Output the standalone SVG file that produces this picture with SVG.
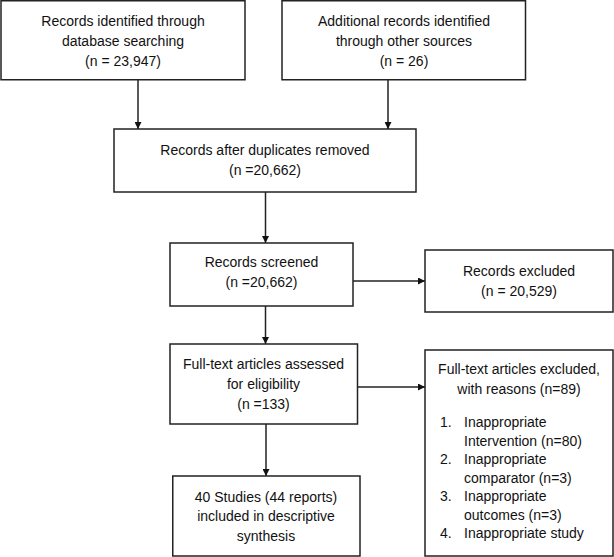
<svg xmlns="http://www.w3.org/2000/svg" width="614" height="557" viewBox="0 0 614 557">
<style>
.box{fill:#fff;stroke:#222;stroke-width:1.5}
.t{font-family:"Liberation Sans",Arial,sans-serif;font-size:14px;fill:#111;text-anchor:middle}
.l{font-family:"Liberation Sans",Arial,sans-serif;font-size:14px;fill:#111}
.c{stroke:#222;stroke-width:1.5;fill:none;marker-end:url(#ah)}
</style>
<defs>
<marker id="ah" viewBox="0 0 10 10" refX="10" refY="5" markerWidth="7" markerHeight="7" markerUnits="userSpaceOnUse" orient="auto">
<path d="M0,0 L10,5 L0,10 z" fill="#111"/>
</marker>
</defs>
<rect width="614" height="557" fill="#fff"/>
<g id="connectors">
<line class="c" x1="138" y1="80" x2="138" y2="129"/>
<line class="c" x1="388" y1="80" x2="388" y2="129"/>
<line class="c" x1="265.5" y1="192" x2="265.5" y2="243"/>
<line class="c" x1="353" y1="281" x2="425" y2="281"/>
<line class="c" x1="265.5" y1="306" x2="265.5" y2="344"/>
<line class="c" x1="357.5" y1="387" x2="425" y2="387"/>
<line class="c" x1="266" y1="424" x2="266" y2="476"/>
</g>
<g id="n1">
<rect class="box" x="1" y="0.75" width="244" height="79"/>
<text class="t" x="123" y="26">Records identified through</text>
<text class="t" x="123" y="46">database searching</text>
<text class="t" x="123" y="66">(n = 23,947)</text>
</g>
<g id="n2">
<rect class="box" x="282" y="0.75" width="243.5" height="79"/>
<text class="t" x="404" y="26">Additional records identified</text>
<text class="t" x="404" y="46">through other sources</text>
<text class="t" x="404" y="66">(n = 26)</text>
</g>
<g id="n3">
<rect class="box" x="114" y="129" width="302" height="63"/>
<text class="t" x="265" y="155">Records after duplicates removed</text>
<text class="t" x="265" y="175">(n =20,662)</text>
</g>
<g id="n4">
<rect class="box" x="170" y="243" width="183" height="63"/>
<text class="t" x="261.5" y="267">Records screened</text>
<text class="t" x="261.5" y="287">(n =20,662)</text>
</g>
<g id="n5">
<rect class="box" x="425" y="250" width="188" height="62"/>
<text class="t" x="519" y="276">Records excluded</text>
<text class="t" x="519" y="296">(n = 20,529)</text>
</g>
<g id="n6">
<rect class="box" x="170" y="344" width="187.5" height="80"/>
<text class="t" x="263.5" y="369">Full-text articles assessed</text>
<text class="t" x="263.5" y="389">for eligibility</text>
<text class="t" x="263.5" y="409">(n =133)</text>
</g>
<g id="n7">
<rect class="box" x="425" y="350" width="188" height="206"/>
<text class="t" x="519" y="374">Full-text articles excluded,</text>
<text class="t" x="519" y="394">with reasons (n=89)</text>
<text class="l" x="440" y="427">1.</text>
<text class="l" x="464" y="427">Inappropriate</text>
<text class="l" x="464" y="445.5">Intervention (n=80)</text>
<text class="l" x="440" y="464">2.</text>
<text class="l" x="464" y="464">Inappropriate</text>
<text class="l" x="464" y="482.5">comparator (n=3)</text>
<text class="l" x="440" y="501">3.</text>
<text class="l" x="464" y="501">Inappropriate</text>
<text class="l" x="464" y="519.5">outcomes (n=3)</text>
<text class="l" x="440" y="538">4.</text>
<text class="l" x="464" y="538">Inappropriate study</text>
</g>
<g id="n8">
<rect class="box" x="172.75" y="476" width="187.25" height="80"/>
<text class="t" x="266" y="502">40 Studies (44 reports)</text>
<text class="t" x="266" y="521">included in descriptive</text>
<text class="t" x="266" y="541">synthesis</text>
</g>
</svg>
